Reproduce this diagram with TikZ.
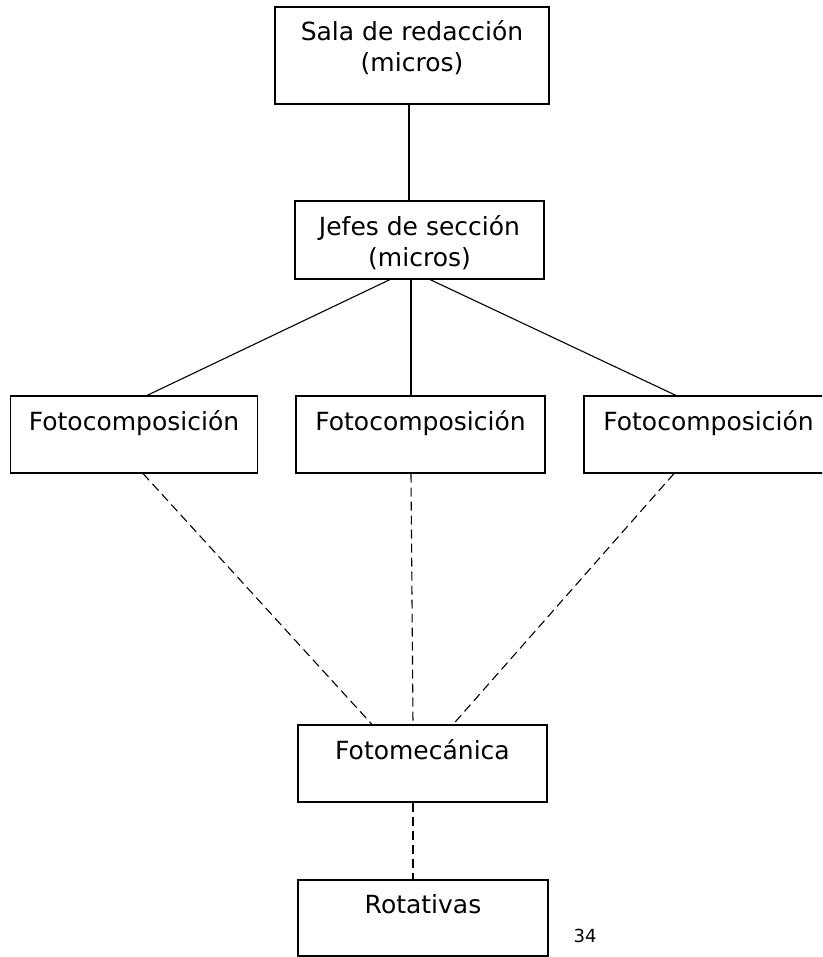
\documentclass[tikz,border=0pt]{standalone}
\usepackage{fontspec}
\setmainfont{DejaVu Sans}
\begin{document}
\begin{tikzpicture}[x=1pt,y=-1pt,line width=1.1pt,
 caja/.style={draw,minimum width=249pt,minimum height=77pt,inner sep=0pt,font=\fontsize{25}{31}\selectfont,align=center},
 linea/.style={text height=18pt,text depth=27pt},
 punteada/.style={dash pattern=on 9pt off 5pt}]
 \clip (0,0) rectangle (822,957);
 \node[caja,minimum width=274pt,minimum height=97pt,text height=50pt,text depth=17pt] (sala) at (412,55.5) {Sala de redacción\\(micros)};
 \node[caja,minimum height=78pt,text height=56pt,text depth=2pt] (jefes) at (419.5,240) {Jefes de sección\\(micros)};
 \node[caja,linea,minimum width=247pt] (foto1) at (134,434.5) {Fotocomposición};
 \node[caja,linea] (foto2) at (420.5,434.5) {Fotocomposición};
 \node[caja,linea] (foto3) at (708.5,434.5) {Fotocomposición};
 \node[caja,linea] (fotomec) at (422.5,763.5) {Fotomecánica};
 \node[caja,linea,minimum width=250pt,minimum height=76pt] (rotativas) at (423,918) {Rotativas};
 \node[font=\fontsize{18}{21}\selectfont] (pagina) at (585,936) {34};
 \draw ([xshift=-3pt]sala.south) -- ([xshift=-3pt]sala.south |- jefes.north);
 \draw ([xshift=-29.5pt]jefes.south) -- ([xshift=13pt]foto1.north);
 \draw ([xshift=-8.5pt]jefes.south) -- ([xshift=-9.5pt]foto2.north);
 \draw ([xshift=10.5pt]jefes.south) -- ([xshift=-32.5pt]foto3.north);
 \draw[punteada] ([xshift=9pt]foto1.south) -- ([xshift=-50.5pt]fotomec.north);
 \draw[punteada] ([xshift=-9.5pt]foto2.south) -- ([xshift=-9.5pt]fotomec.north);
 \draw[punteada] ([xshift=-34.5pt]foto3.south) -- ([xshift=30.5pt]fotomec.north);
 \draw[punteada] ([xshift=-9.5pt]fotomec.south) -- ([xshift=-10pt]rotativas.north);
\end{tikzpicture}
\end{document}
